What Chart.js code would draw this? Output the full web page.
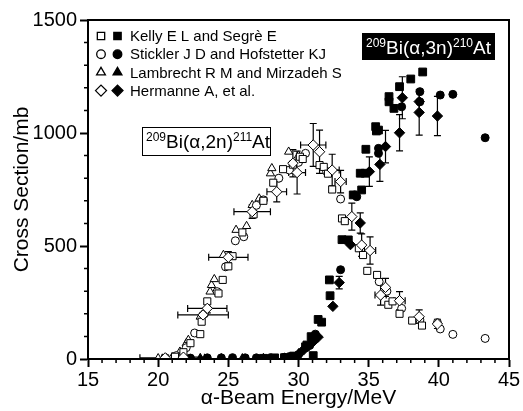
<!DOCTYPE html>
<html>
<head>
<meta charset="utf-8">
<script src="https://cdn.jsdelivr.net/npm/chart.js@4/dist/chart.umd.min.js"></script>
<style>
  html, body { margin: 0; padding: 0; background: #fff; }
  #wrap { width: 523px; height: 411px; }
</style>
</head>
<body>
<div id="wrap"><canvas id="xsChart" width="523" height="411"></canvas></div>
<script>
// ---- datos: [energía MeV, sección eficaz mb, error x, error y] ----
const kelly2n = [[20.5,3],[21.2,10],[21.8,30],[22.3,70],[23.0,110],[23.1,165],[23.5,255],[24.3,290],[24.6,350],
  [25.0,410],[25.3,455],[26.0,560],[26.8,640],[27.5,700],[28.2,780],[28.9,840],[29.6,860],[30.1,895],[30.3,885],
  [31.5,858],[31.8,850],[32.1,820],[32.4,750],[33.1,622],[33.3,610],[34.3,490],[34.6,460],[34.9,390],[35.6,372],
  [36.4,240],[36.7,255],[37.2,200],[38.1,170],[38.8,148]];
const stickler2n = [[21.3,15],[22.0,50],[22.6,115],[23.3,200],[24.2,298],[24.8,408],[25.5,523],[26.1,541],
  [27.0,680],[27.5,704],[28.6,800],[29.35,836],[30.0,870],[30.5,910],[32.0,830],[33.0,708],[35.75,342],[36.3,300],
  [37.35,224],[38.65,173],[39.9,161],[40.1,133],[41.0,109],[43.3,91]];
const lambrecht2n = [[20.0,3],[21.0,8],[21.55,32],[22.0,69],[22.15,84],[23.0,187],[23.7,298],[23.8,327],[24.0,353],
  [24.65,460],[25.55,571],[26.3,588],[26.7,681],[27.2,710],[28.0,821],[28.1,844],[29.3,917],[30.0,900]];
const hermanne2n = [[20.5,5,1.8,0],[21.8,8,1.5,0],[23.2,195,1.8,0],[23.5,224,1.4,20],[25.0,450,1.4,25],
  [26.7,652,1.3,30],[28.45,740,0.7,45],[29.6,866,0,60],[29.9,825,0.6,95],[31.05,947,0.9,95],[31.5,917,0,96],
  [32.4,836,0.5,70],[33.0,785,0.4,50],[33.8,630,0,60],[34.5,504,0,50],[35.1,480,0.4,60],[35.85,283,0.4,45],
  [36.2,317,0,40],[37.2,258,0.4,40],[38.6,187,0,30],[39.9,155,0,20]];

const kelly3n = [[27.5,3],[28.3,5],[29.0,6],[29.5,10],[29.65,13],[30.5,54],[30.6,62],[30.9,99],[31.05,15],
  [31.4,175],[31.65,163],[32.2,350],[32.25,280],[33.1,528],[33.55,527],[33.9,726],[34.5,748],[34.4,822],
  [34.75,822],[34.8,928],[35.5,1028],[35.55,1009],[35.7,1013],[36.45,1161],[36.45,1138],[36.8,1109],
  [37.2,1205],[38.0,1239],[38.85,1270]];
const stickler3n = [[21.3,4],[22.3,4],[23.5,5],[24.5,5],[25.3,6],[26.2,5],[27.0,5],[28.0,6],[29.0,8],[30.0,20],
  [30.8,60],[31.2,110],[33.0,395],[34.0,726],[34.15,718],[35.7,932],[35.7,910],[37.35,1116],[38.65,1183],
  [38.65,1138],[40.1,1168],[41.0,1171],[43.3,979]];
const lambrecht3n = [[20.6,3],[21.0,4],[22.0,3],[23.0,4],[24.5,3],[26.0,3],[27.5,4],[29.0,5],[30.0,25],
  [30.4,45],[31.0,80]];
const hermanne3n = [[30.35,40,0,0],[31.05,77,0,0],[31.4,97,0,0],[32.45,233,0,0],[32.9,338,0,28],[33.7,506,0,0],
  [34.4,602,0,45],[35.05,829,0,65],[35.8,861,0,75],[36.2,940,0,72],[37.2,1001,0,80],[37.4,1156,0,93],
  [38.6,1139,0,0],[38.6,1091,0,100],[39.9,1075,0,87]];

const xTicks = [15, 20, 25, 30, 35, 40, 45];
const yTicks = [0, 500, 1000, 1500];
const authors = ['Kelly E L and Segrè E', 'Stickler J D and Hofstetter KJ', 'Lambrecht R M and Mirzadeh S', 'Hermanne A, et al.'];

const FONT = '"Liberation Sans", Arial, Helvetica, sans-serif';
const styles = ['rect', 'circle', 'triangle', 'rectRot'];
const radii = [5, 4, 4.8, 5.2];

function makeSet(label, rows, idx, filled) {
    return {
        label,
        data: rows.map(r => ({ x: r[0], y: r[1], xe: r[2] || 0, ye: r[3] || 0 })),
        pointStyle: styles[idx],
        pointRadius: filled && idx === 0 ? 5.5 : radii[idx],
        backgroundColor: filled ? '#000' : '#fff',
        borderColor: '#000',
        borderWidth: 1,
        showLine: false,
        clip: 0
    };
}

// barras de error (se dibujan antes de los puntos)
const errorBars = {
    id: 'errorBars',
    beforeDatasetsDraw(chart) {
        const { ctx, chartArea: a, scales: { x, y } } = chart;
        ctx.save();
        ctx.beginPath();
        ctx.rect(a.left, a.top, a.right - a.left, a.bottom - a.top);
        ctx.clip();
        ctx.strokeStyle = '#000';
        ctx.lineWidth = 1.2;
        const cap = 3.5;
        chart.data.datasets.forEach(ds => {
            ds.data.forEach(p => {
                const px = x.getPixelForValue(p.x);
                const py = y.getPixelForValue(p.y);
                ctx.beginPath();
                if (p.ye) {
                    const t = y.getPixelForValue(p.y + p.ye);
                    const b = y.getPixelForValue(Math.max(0, p.y - p.ye));
                    ctx.moveTo(px, t); ctx.lineTo(px, b);
                    ctx.moveTo(px - cap, t); ctx.lineTo(px + cap, t);
                    ctx.moveTo(px - cap, b); ctx.lineTo(px + cap, b);
                }
                if (p.xe) {
                    const l = x.getPixelForValue(p.x - p.xe);
                    const r = x.getPixelForValue(p.x + p.xe);
                    ctx.moveTo(l, py); ctx.lineTo(r, py);
                    ctx.moveTo(l, py - cap); ctx.lineTo(l, py + cap);
                    ctx.moveTo(r, py - cap); ctx.lineTo(r, py + cap);
                }
                ctx.stroke();
            });
        });
        ctx.restore();
    }
};

function richText(ctx, parts, x, y, color) {
    ctx.fillStyle = color;
    ctx.textBaseline = 'alphabetic';
    ctx.textAlign = 'left';
    parts.forEach(([t, sup]) => {
        ctx.font = (sup ? '12px ' : '19px ') + FONT;
        ctx.fillText(t, x, sup ? y - 7 : y);
        x += ctx.measureText(t).width;
    });
}

// marco, ticks menores, leyenda y etiquetas de reacción
const decorations = {
    id: 'decorations',
    afterDraw(chart) {
        const { ctx, chartArea: a, scales: { x, y } } = chart;
        ctx.save();
        ctx.strokeStyle = '#000';
        ctx.lineWidth = 2;
        ctx.strokeRect(a.left, a.top, a.right - a.left, a.bottom - a.top);

        ctx.lineWidth = 1.5;
        ctx.beginPath();
        for (let v = 15; v <= 45; v += 1) {
            if (v % 5 === 0) continue;
            const px = x.getPixelForValue(v);
            ctx.moveTo(px, a.bottom); ctx.lineTo(px, a.bottom + 4);
        }
        for (let v = 0; v <= 1500; v += 100) {
            if (v % 500 === 0) continue;
            const py = y.getPixelForValue(v);
            ctx.moveTo(a.left, py); ctx.lineTo(a.left - 4, py);
        }
        ctx.stroke();

        // leyenda
        authors.forEach((name, i) => {
            const rowY = 36 + i * 18.2;
            [false, true].forEach((filled, k) => {
                ctx.fillStyle = filled ? '#000' : '#fff';
                ctx.strokeStyle = '#000';
                ctx.lineWidth = 1.3;
                Chart.helpers.drawPoint(ctx, {
                    pointStyle: styles[i], radius: i === 0 ? 5.2 : radii[i] + 0.3, rotation: 0, borderWidth: 1.3
                }, 101 + k * 16.5, rowY);
            });
            ctx.fillStyle = '#000';
            ctx.font = '15px ' + FONT;
            ctx.textBaseline = 'middle';
            ctx.textAlign = 'left';
            ctx.fillText(name, 130, rowY + 1);
        });

        // etiqueta (α,2n)
        ctx.fillStyle = '#fff';
        ctx.fillRect(142, 127, 128, 28);
        ctx.strokeStyle = '#000';
        ctx.lineWidth = 1;
        ctx.strokeRect(142.5, 127.5, 128, 28);
        richText(ctx, [['209', true], ['Bi(α,2n)', false], ['211', true], ['At', false]], 146, 148, '#000');

        // etiqueta (α,3n)
        ctx.fillStyle = '#000';
        ctx.fillRect(362, 33, 133, 27);
        richText(ctx, [['209', true], ['Bi(α,3n)', false], ['210', true], ['At', false]], 366, 54, '#fff');
        ctx.restore();
    }
};

const ctx = document.getElementById('xsChart');
new Chart(ctx, {
    type: 'scatter',
    data: {
        datasets: [
            makeSet(authors[3] + ' (α,2n)', hermanne2n, 3, false),
            makeSet(authors[0] + ' (α,2n)', kelly2n, 0, false),
            makeSet(authors[1] + ' (α,2n)', stickler2n, 1, false),
            makeSet(authors[2] + ' (α,2n)', lambrecht2n, 2, false),
            makeSet(authors[3] + ' (α,3n)', hermanne3n, 3, true),
            makeSet(authors[0] + ' (α,3n)', kelly3n, 0, true),
            makeSet(authors[1] + ' (α,3n)', stickler3n, 1, true),
            makeSet(authors[2] + ' (α,3n)', lambrecht3n, 2, true)
        ]
    },
    options: {
        responsive: false,
        animation: false,
        events: [],
        layout: { padding: { top: 20, right: 14, left: 0, bottom: 0 } },
        plugins: {
            legend: { display: false },
            tooltip: { enabled: false }
        },
        scales: {
            x: {
                type: 'linear',
                min: 15,
                max: 45,
                afterBuildTicks: s => { s.ticks = xTicks.map(v => ({ value: v })); },
                afterFit: s => { s.height = 52; },
                border: { display: true, color: '#000', width: 2 },
                grid: { drawOnChartArea: false, drawTicks: true, tickLength: 8, tickWidth: 2, tickColor: '#000' },
                ticks: {
                    color: '#000', font: { family: FONT, size: 20 }, padding: 1, maxRotation: 0, autoSkip: false,
                    callback: v => String(v)
                },
                title: {
                    display: true, text: 'α-Beam Energy/MeV', color: '#000',
                    font: { family: FONT, size: 21 }, padding: { top: 0, bottom: 0 }
                }
            },
            y: {
                type: 'linear',
                min: 0,
                max: 1500,
                afterBuildTicks: s => { s.ticks = yTicks.map(v => ({ value: v })); },
                afterFit: s => { s.width = 88; },
                border: { display: true, color: '#000', width: 2 },
                grid: { drawOnChartArea: false, drawTicks: true, tickLength: 8, tickWidth: 2, tickColor: '#000' },
                ticks: { color: '#000', font: { family: FONT, size: 20 }, padding: 3, callback: v => String(v) },
                title: {
                    display: true, text: 'Cross Section/mb', color: '#000',
                    font: { family: FONT, size: 21 }, padding: { top: 10, bottom: 0 }
                }
            }
        }
    },
    plugins: [errorBars, decorations]
});
</script>
</body>
</html>
